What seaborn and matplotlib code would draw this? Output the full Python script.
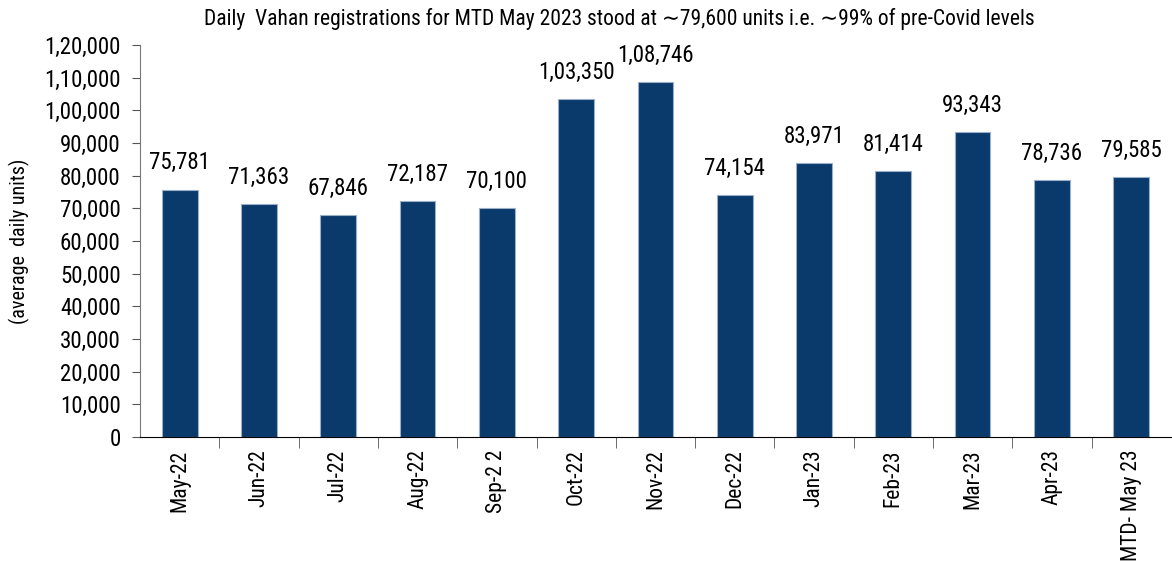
import matplotlib
matplotlib.use("Agg")
import matplotlib.pyplot as plt
import seaborn as sns
import pandas as pd
import numpy as np
from matplotlib import font_manager
from matplotlib.ticker import FuncFormatter, FixedLocator

# dados
months = ["May-22", "Jun-22", "Jul-22", "Aug-22", "Sep-2 2", "Oct-22", "Nov-22",
          "Dec-22", "Jan-23", "Feb-23", "Mar-23", "Apr-23", "MTD- May 23"]
units = [75781, 71363, 67846, 72187, 70100, 103350, 108746,
         74154, 83971, 81414, 93343, 78736, 79585]

df = pd.DataFrame({"month": months, "units": units})

sns.set_style("white")

# fonte estreita, se existir
available = {f.name for f in font_manager.fontManager.ttflist}
narrow = "Liberation Sans"
for cand in ["Liberation Sans Narrow", "Arial Narrow", "Roboto Condensed",
             "PT Sans Narrow", "Archivo Narrow", "Pragati Narrow"]:
    if cand in available:
        narrow = cand
        break
plt.rcParams["font.family"] = [narrow, "DejaVu Sans"]
plt.rcParams["text.color"] = "black"
plt.rcParams["xtick.color"] = "black"
plt.rcParams["ytick.color"] = "black"
plt.rcParams["axes.labelcolor"] = "black"


def indian(v, pos=None):
    s = str(int(round(v)))
    if len(s) <= 3:
        return s
    last3 = s[-3:]
    rest = s[:-3]
    parts = []
    while len(rest) > 2:
        parts.insert(0, rest[-2:])
        rest = rest[:-2]
    if rest:
        parts.insert(0, rest)
    return ",".join(parts + [last3])


fig = plt.figure(figsize=(11.72, 5.64), dpi=100)
ax = fig.add_axes([0.1195, 0.2252, 0.8795, 0.6948])

sns.barplot(data=df, x="month", y="units", color="#0A3A6B", width=0.45,
            edgecolor="#9AB0C8", linewidth=0.8, saturation=1, ax=ax)

for i, v in enumerate(units):
    ax.annotate(indian(v), (i, v), xytext=(0, 11), textcoords="offset points",
                ha="center", va="bottom", fontsize=16.5)

ax.set_ylim(0, 120000)
ax.set_xlim(-0.5, len(months) - 0.5)
ax.set_yticks(np.arange(0, 120001, 10000))
ax.yaxis.set_major_formatter(FuncFormatter(indian))
ax.tick_params(axis="y", labelsize=16.5, length=6, direction="out", left=True,
               color="#555555", pad=8)

ax.set_xticks(range(len(months)))
ax.set_xticklabels(months, rotation=90, fontsize=15.5)
ax.tick_params(axis="x", which="major", length=0, pad=9)
ax.xaxis.set_minor_locator(FixedLocator(np.arange(0.5, len(months) - 0.5, 1)))
ax.tick_params(axis="x", which="minor", length=8, direction="out", bottom=True,
               color="#555555")

ax.set_xlabel("")
ax.set_ylabel("(average  daily units)", fontsize=14.5, labelpad=10)

for s in ["top", "right"]:
    ax.spines[s].set_visible(False)
ax.spines["left"].set_color("#777777")
ax.spines["bottom"].set_color("black")

fig.suptitle("Daily  Vahan registrations for MTD May 2023 stood at \u223c79,600 units i.e. \u223c99% of pre-Covid levels",
             x=0.528, y=0.985, fontsize=15.5)

plt.savefig("out.png", dpi=100)
plt.close()
